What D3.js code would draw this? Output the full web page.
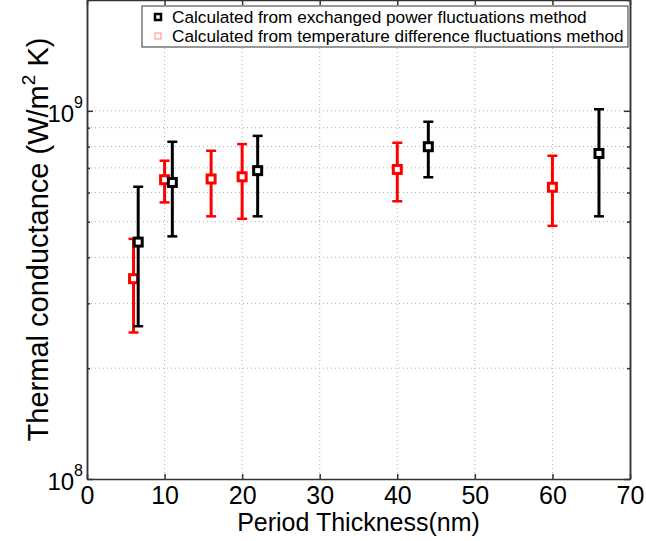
<!DOCTYPE html>
<html>
<head>
<meta charset="utf-8">
<script src="https://cdn.jsdelivr.net/npm/d3@7"></script>
<style>
  body { margin: 0; background: #fff; }
  svg { display: block; font-family: "Liberation Sans", Arial, sans-serif; }
</style>
</head>
<body>
<svg id="chart" width="646" height="541"></svg>
<script>
// values
const powerX = [6.6, 11, 22, 44, 66];
const powerY = [4.40e8, 6.39e8, 6.88e8, 7.99e8, 7.66e8];
const powerLo = [2.60e8, 4.56e8, 5.17e8, 6.60e8, 5.17e8];
const powerHi = [6.22e8, 8.24e8, 8.55e8, 9.34e8, 1.01e9];

const tempX = [6, 10, 16, 20, 40, 60];
const tempY = [3.50e8, 6.50e8, 6.53e8, 6.62e8, 6.93e8, 6.20e8];
const tempLo = [2.50e8, 5.64e8, 5.17e8, 5.09e8, 5.68e8, 4.87e8];
const tempHi = [4.49e8, 7.32e8, 7.79e8, 8.12e8, 8.19e8, 7.55e8];

const xTicks = [0, 10, 20, 30, 40, 50, 60, 70];
const yMajor = [1e8, 1e9];
const yMinor = [2e8, 3e8, 4e8, 5e8, 6e8, 7e8, 8e8, 9e8, 2e9];

const legendLabels = [
  "Calculated from exchanged power fluctuations method",
  "Calculated from temperature difference fluctuations method"
];

const svg = d3.select("#chart");
const box = {left: 87, right: 630, top: 0, bottom: 479};

const x = d3.scaleLinear().domain([0, 70]).range([box.left, box.right]);
const y = d3.scaleLog().domain([1e8, 2e9]).range([box.bottom, box.top]);

// dotted grid
const grid = svg.append("g").attr("stroke", "#b0b0b0").attr("stroke-width", 1)
  .attr("stroke-dasharray", "1,3");
grid.selectAll(".gx").data(xTicks.slice(1, -1)).join("line")
  .attr("x1", d => x(d)).attr("x2", d => x(d)).attr("y1", box.top).attr("y2", box.bottom);
grid.selectAll(".gy").data(yMajor.concat(yMinor).filter(d => d > 1e8 && d < 2e9)).join("line")
  .attr("x1", box.left).attr("x2", box.right).attr("y1", d => y(d)).attr("y2", d => y(d));

// axes (ticks inside, box all around like matlab)
const axisCol = "#333";
const xAxis = svg.append("g").attr("transform", `translate(0,${box.bottom})`)
  .call(d3.axisBottom(x).tickValues(xTicks).tickSizeInner(-5).tickSizeOuter(0).tickPadding(7));
xAxis.selectAll("text").attr("font-size", 25).attr("fill", "#000");
svg.append("g").attr("transform", `translate(0,${box.top})`)
  .call(d3.axisTop(x).tickValues(xTicks).tickSizeInner(-5).tickSizeOuter(0).tickFormat(""));

svg.append("g").attr("transform", `translate(${box.left},0)`)
  .call(d3.axisLeft(y).tickValues(yMajor).tickSizeInner(-6).tickSizeOuter(0).tickFormat(""));
svg.append("g").attr("transform", `translate(${box.left},0)`)
  .call(d3.axisLeft(y).tickValues(yMinor).tickSizeInner(-3).tickSizeOuter(0).tickFormat(""));
svg.append("g").attr("transform", `translate(${box.right},0)`)
  .call(d3.axisRight(y).tickValues(yMajor).tickSizeInner(-6).tickSizeOuter(0).tickFormat(""));
svg.append("g").attr("transform", `translate(${box.right},0)`)
  .call(d3.axisRight(y).tickValues(yMinor).tickSizeInner(-3).tickSizeOuter(0).tickFormat(""));
svg.selectAll(".domain, .tick line").attr("stroke", axisCol).attr("stroke-width", 1.5);

// y tick labels 10^n
const yl = svg.append("g");
yMajor.forEach(v => {
  const t = yl.append("text").attr("x", box.left - 4).attr("y", y(v) + 11)
    .attr("text-anchor", "end").attr("font-size", 24);
  t.append("tspan").text("10");
  t.append("tspan").attr("font-size", 16).attr("dy", -14).text(Math.round(Math.log10(v)));
});

// axis titles
svg.append("text").attr("x", (box.left + box.right) / 2).attr("y", 531).attr("text-anchor", "middle")
  .attr("font-size", 25).text("Period Thickness(nm)");
const yt = svg.append("text").attr("transform", `translate(48,${(box.top + box.bottom) / 2}) rotate(-90)`)
  .attr("text-anchor", "middle").attr("font-size", 29);
yt.append("tspan").text("Thermal conductance (W/m");
yt.append("tspan").attr("font-size", 19).attr("dy", -13).text("2");
yt.append("tspan").attr("dy", 13).text(" K)");

// error bars with square markers
function series(xs, ys, lo, hi, col) {
  const g = svg.append("g").attr("stroke", col).attr("fill", "none");
  const idx = d3.range(xs.length);
  g.selectAll(".bar").data(idx).join("line").attr("stroke-width", 3)
    .attr("x1", i => x(xs[i])).attr("x2", i => x(xs[i]))
    .attr("y1", i => y(lo[i])).attr("y2", i => y(hi[i]));
  g.selectAll(".capLo").data(idx).join("line").attr("stroke-width", 2.5)
    .attr("x1", i => x(xs[i]) - 5).attr("x2", i => x(xs[i]) + 5)
    .attr("y1", i => y(lo[i])).attr("y2", i => y(lo[i]));
  g.selectAll(".capHi").data(idx).join("line").attr("stroke-width", 2.5)
    .attr("x1", i => x(xs[i]) - 5).attr("x2", i => x(xs[i]) + 5)
    .attr("y1", i => y(hi[i])).attr("y2", i => y(hi[i]));
  g.selectAll("rect").data(idx).join("rect").attr("stroke-width", 3).attr("fill", "#fff")
    .attr("x", i => x(xs[i]) - 4).attr("y", i => y(ys[i]) - 4)
    .attr("width", 8).attr("height", 8);
}
series(tempX, tempY, tempLo, tempHi, "#ff0000");
series(powerX, powerY, powerLo, powerHi, "#000");

// legend
const lg = svg.append("g").attr("transform", "translate(142,6)");
lg.append("rect").attr("width", 486).attr("height", 41).attr("fill", "#fff")
  .attr("stroke", "#333").attr("stroke-width", 1);
lg.append("rect").attr("x", 13).attr("y", 8).attr("width", 6).attr("height", 6)
  .attr("fill", "#fff").attr("stroke", "#000").attr("stroke-width", 2.5);
lg.append("rect").attr("x", 13).attr("y", 27).attr("width", 6).attr("height", 6)
  .attr("fill", "#fff").attr("stroke", "#f88").attr("stroke-width", 1);
lg.selectAll("text").data(legendLabels).join("text")
  .attr("x", 30).attr("y", (d, i) => 17 + i * 19).attr("font-size", 17.2)
  .text(d => d);
</script>
</body>
</html>
